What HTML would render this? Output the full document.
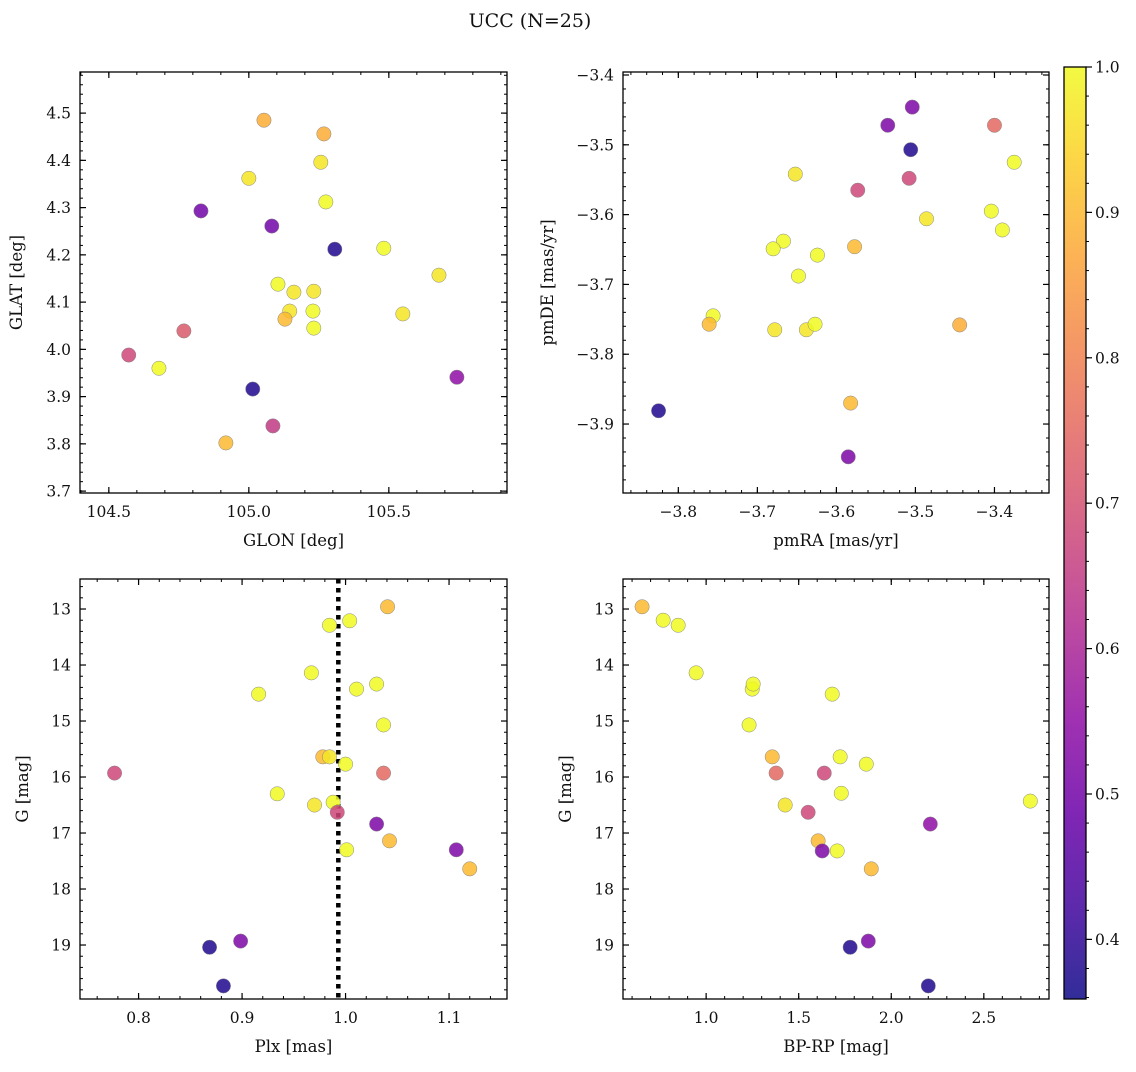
<!DOCTYPE html>
<html><head><meta charset="utf-8"><style>
body{margin:0;background:#fff;}
svg text{font-family:"DejaVu Serif","Liberation Serif",serif;fill:#111;}
</style></head><body>
<svg id="fig" width="1136" height="1067" xmlns="http://www.w3.org/2000/svg">
<text x="530" y="27" font-size="19" text-anchor="middle">UCC (N=25)</text>
</svg>
<script>
// Panel 1: GLON vs GLAT
const glon=[105.054,105.268,105.257,105.0,105.275,104.829,105.082,105.307,105.482,105.679,105.104,105.161,105.232,105.146,105.229,105.129,105.232,105.55,104.768,104.571,104.679,105.743,105.014,105.086,104.918];
const glat=[4.485,4.456,4.396,4.362,4.312,4.293,4.261,4.212,4.214,4.157,4.138,4.121,4.123,4.081,4.081,4.064,4.045,4.075,4.039,3.988,3.960,3.941,3.916,3.838,3.802];
const prob1=[.88,.88,.97,.97,1,.5,.5,.38,1,.97,1,.97,.97,.97,1,.9,1,.97,.72,.68,1,.55,.38,.65,.9];
// Panel 2: pmRA vs pmDE
const pmra=[-3.504,-3.535,-3.4,-3.506,-3.375,-3.652,-3.508,-3.573,-3.404,-3.486,-3.39,-3.667,-3.68,-3.624,-3.577,-3.648,-3.756,-3.761,-3.678,-3.638,-3.627,-3.444,-3.582,-3.825,-3.585];
const pmde=[-3.446,-3.472,-3.472,-3.507,-3.525,-3.542,-3.548,-3.565,-3.595,-3.606,-3.622,-3.638,-3.649,-3.658,-3.646,-3.688,-3.745,-3.757,-3.765,-3.765,-3.757,-3.758,-3.87,-3.881,-3.947];
const prob2=[.52,.52,.75,.38,1,.97,.68,.68,1,.97,1,1,1,1,.9,1,1,.9,.97,.97,1,.88,.9,.38,.52];
// Panel 3: Plx vs G
const plx=[1.0406,1.004,0.9845,0.967,1.0106,1.03,0.916,1.0367,0.978,0.9845,1.0,0.7768,1.0367,0.934,0.988,0.970,0.992,1.03,1.0425,1.001,1.107,1.12,0.8986,0.8686,0.882];
const gmag3=[12.96,13.21,13.29,14.14,14.43,14.34,14.52,15.07,15.64,15.64,15.77,15.93,15.93,16.30,16.45,16.50,16.63,16.84,17.14,17.30,17.30,17.64,18.93,19.04,19.73];
const prob3=[.9,1,1,1,1,1,1,1,.9,.97,1,.68,.75,1,1,.97,.68,.52,.9,1,.52,.9,.52,.38,.38];
const plxLine=[0.993];
// Panel 4: BP-RP vs G
const bprp=[0.654,0.768,0.849,0.946,1.249,1.254,1.681,1.232,1.357,1.724,1.865,1.378,1.638,1.73,2.751,1.427,1.551,2.211,1.605,1.627,1.708,1.892,1.876,1.778,2.2];
const gmag4=[12.96,13.20,13.29,14.14,14.43,14.34,14.52,15.07,15.64,15.64,15.77,15.93,15.93,16.29,16.43,16.50,16.63,16.84,17.14,17.32,17.32,17.64,18.93,19.04,19.73];
const prob4=[.9,1,1,1,1,1,1,1,.9,1,1,.75,.68,1,1,.97,.68,.55,.9,.52,1,.9,.52,.38,.38];
// Tick labels
const ticks1x=[104.5,105.0,105.5], ticks1y=[3.7,3.8,3.9,4.0,4.1,4.2,4.3,4.4,4.5];
const ticks2x=[-3.8,-3.7,-3.6,-3.5,-3.4], ticks2y=[-3.9,-3.8,-3.7,-3.6,-3.5,-3.4];
const ticks3x=[0.8,0.9,1.0,1.1], ticksGy=[13,14,15,16,17,18,19];
const ticks4x=[1.0,1.5,2.0,2.5];
const cbTicks=[0.4,0.5,0.6,0.7,0.8,0.9,1.0];

const NS="http://www.w3.org/2000/svg";
const svg=document.getElementById('fig');
function mk(tag,attrs,parent){const e=document.createElementNS(NS,tag);for(const k in attrs)e.setAttribute(k,attrs[k]);(parent||svg).appendChild(e);return e;}
const plasma=[[13,8,135],[65,4,157],[106,0,168],[143,13,164],[177,42,144],[204,71,120],[225,100,98],[242,132,75],[252,166,54],[252,206,37],[240,249,33]];
const CMIN=0.359,CMAX=1.0;
function cmap(v){let t=(v-CMIN)/(CMAX-CMIN);t=Math.max(0,Math.min(1,t));const s=t*(plasma.length-1);const i=Math.min(plasma.length-2,Math.floor(s));const f=s-i;const a=plasma[i],b=plasma[i+1];return 'rgb('+a.map((c,k)=>Math.round(c+(b[k]-c)*f)).join(',')+')';}
function fmt(v,d){return (v<0?'\u2212':'')+Math.abs(v).toFixed(d);}

function panel(o){
  const g=mk('g',{});
  
  
  const X=v=>o.x0+(v-o.xmin)/(o.xmax-o.xmin)*(o.x1-o.x0);
  const Y=o.invert? v=>o.y0+(v-o.ymin)/(o.ymax-o.ymin)*(o.y1-o.y0) : v=>o.y1-(v-o.ymin)/(o.ymax-o.ymin)*(o.y1-o.y0);
  const mt=mk('g',{stroke:'#000','stroke-width':1},g);
  
  
  const k0=Math.ceil(o.xmin/o.xminor-1e-6),k1=Math.floor(o.xmax/o.xminor+1e-6);
  for(let k=k0;k<=k1;k++){const px=X(k*o.xminor);mk('line',{x1:px,x2:px,y1:o.y1,y2:o.y1-3},mt);mk('line',{x1:px,x2:px,y1:o.y0,y2:o.y0+3},mt);}
  const lo=Math.min(o.ymin,o.ymax),hi=Math.max(o.ymin,o.ymax);
  const j0=Math.ceil(lo/o.yminor-1e-6),j1=Math.floor(hi/o.yminor+1e-6);
  for(let k=j0;k<=j1;k++){const py=Y(k*o.yminor);mk('line',{x1:o.x0,x2:o.x0+3,y1:py,y2:py},mt);mk('line',{x1:o.x1,x2:o.x1-3,y1:py,y2:py},mt);}
  o.xt.forEach(v=>{const px=X(v);
    mk('line',{x1:px,x2:px,y1:o.y1,y2:o.y1-6,stroke:'#000','stroke-width':1.2},g);
    mk('line',{x1:px,x2:px,y1:o.y0,y2:o.y0+6,stroke:'#000','stroke-width':1.2},g);
    const t=mk('text',{x:px,y:o.y1+24,'font-size':15.5,'text-anchor':'middle'},g);t.textContent=fmt(v,o.xd);
    
    });
  o.yt.forEach(v=>{const py=Y(v);
    mk('line',{x1:o.x0,x2:o.x0+6,y1:py,y2:py,stroke:'#000','stroke-width':1.2},g);
    mk('line',{x1:o.x1,x2:o.x1-6,y1:py,y2:py,stroke:'#000','stroke-width':1.2},g);
    const t=mk('text',{x:o.x0-9,y:py+5.5,'font-size':15.5,'text-anchor':'end'},g);t.textContent=fmt(v,o.yd);
    
    });
  if(o.vline!==undefined){const px=X(o.vline);const l=mk('line',{x1:px,x2:px,y1:o.y0,y2:o.y1,stroke:'#000','stroke-width':4.5,'stroke-dasharray':'4.5,4.5'},g);
    
    }
  o.xs.forEach((v,i)=>{const c=mk('circle',{cx:X(v),cy:Y(o.ys[i]),r:7.2,fill:cmap(o.cs[i]),'fill-opacity':0.85,stroke:'#888','stroke-width':0.5},g);
    
    });
  const fr=mk('rect',{x:o.x0,y:o.y0,width:o.x1-o.x0,height:o.y1-o.y0,fill:'none',stroke:'#000','stroke-width':1.3},g);
  
  
  const xl=mk('text',{x:(o.x0+o.x1)/2,y:o.y1+53,'font-size':16.5,'text-anchor':'middle'},g);xl.textContent=o.xlabel;
  
  
  const ycx=o.x0-o.ylo,ycy=(o.y0+o.y1)/2;
  const yl=mk('text',{x:ycx,y:ycy,'font-size':16.5,'text-anchor':'middle',transform:'rotate(-90 '+ycx+' '+ycy+')'},g);yl.textContent=o.ylabel;
  
  
}
panel({name:'glon-glat-panel',x0:80,x1:507,y0:72,y1:493,xmin:104.397,xmax:105.922,ymin:3.696,ymax:4.587,xt:ticks1x,yt:ticks1y,xd:1,yd:1,xminor:0.1,yminor:0.02,xs:glon,ys:glat,cs:prob1,xlabel:'GLON [deg]',ylabel:'GLAT [deg]',ylo:58});
panel({name:'pm-panel',x0:623,x1:1049,y0:72,y1:493,xmin:-3.87,xmax:-3.331,ymin:-3.9988,ymax:-3.3957,xt:ticks2x,yt:ticks2y,xd:1,yd:1,xminor:0.02,yminor:0.02,xs:pmra,ys:pmde,cs:prob2,xlabel:'pmRA [mas/yr]',ylabel:'pmDE [mas/yr]',ylo:70});
panel({name:'plx-g-panel',x0:80,x1:507,y0:579,y1:999,xmin:0.7434,xmax:1.156,ymin:12.464,ymax:19.964,invert:true,xt:ticks3x,yt:ticksGy,xd:1,yd:0,xminor:0.02,yminor:0.2,xs:plx,ys:gmag3,cs:prob3,vline:plxLine[0],xlabel:'Plx [mas]',ylabel:'G [mag]',ylo:52});
panel({name:'cmd-panel',x0:623,x1:1049,y0:579,y1:999,xmin:0.551,xmax:2.852,ymin:12.464,ymax:19.964,invert:true,xt:ticks4x,yt:ticksGy,xd:1,yd:0,xminor:0.1,yminor:0.2,xs:bprp,ys:gmag4,cs:prob4,xlabel:'BP-RP [mag]',ylabel:'G [mag]',ylo:52});

const cb=mk('g',{});


const defs=mk('defs',{},cb);
const gr=mk('linearGradient',{id:'pg',x1:0,y1:1,x2:0,y2:0},defs);
for(let i=0;i<=20;i++){const v=CMIN+(CMAX-CMIN)*i/20;mk('stop',{offset:(i/20),'stop-color':cmap(v),'stop-opacity':0.85},gr);}
const cbx0=1064,cbx1=1086,cby0=67,cby1=999;
mk('rect',{x:cbx0,y:cby0,width:cbx1-cbx0,height:cby1-cby0,fill:'url(#pg)',stroke:'#000','stroke-width':1.3},cb);
const CY=v=>cby1-(v-CMIN)/(CMAX-CMIN)*(cby1-cby0);
for(let k=Math.ceil(CMIN/0.02);k<=Math.floor(CMAX/0.02+1e-6);k++){const py=CY(k*0.02);mk('line',{x1:cbx1,x2:cbx1+3,y1:py,y2:py,stroke:'#000'},cb);}
cbTicks.forEach(v=>{const py=CY(v);mk('line',{x1:cbx1,x2:cbx1+6,y1:py,y2:py,stroke:'#000','stroke-width':1.2},cb);
  const t=mk('text',{x:cbx1+9,y:py+5.5,'font-size':15.5},cb);t.textContent=v.toFixed(1);
  
  });
</script>
</body></html>
